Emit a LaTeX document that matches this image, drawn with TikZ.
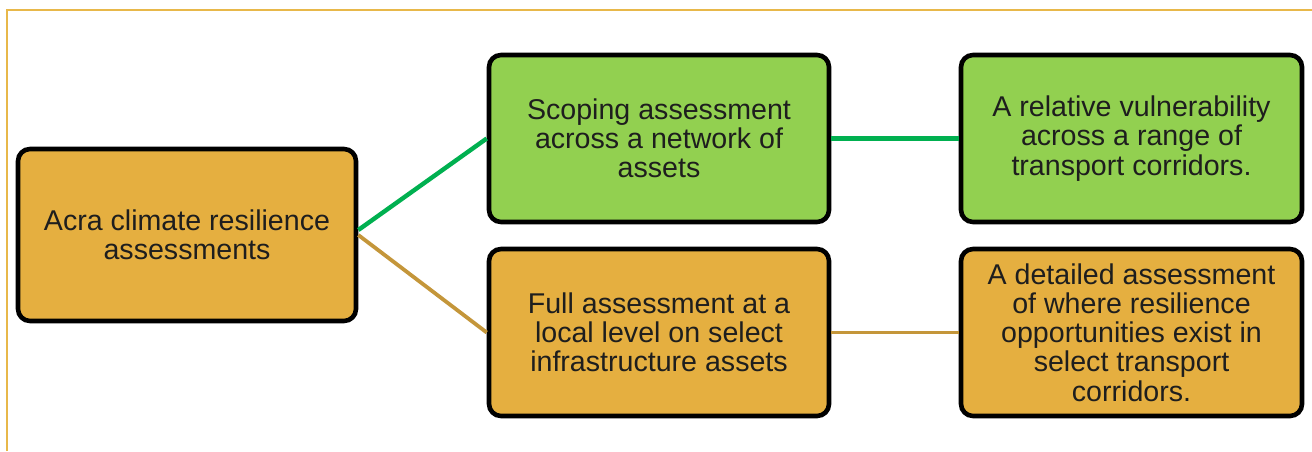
\documentclass[tikz,border=0pt]{standalone}
\usepackage{fontspec}
\setmainfont{Liberation Sans}
\definecolor{framec}{HTML}{E8B84A}
\definecolor{orangefill}{HTML}{E5AF40}
\definecolor{greenfill}{HTML}{92D050}
\definecolor{greenline}{HTML}{00B050}
\definecolor{brownline}{HTML}{C4963A}
\definecolor{textc}{HTML}{1E1E1E}
\begin{document}
\begin{tikzpicture}[x=0.5pt,y=0.5pt,
  box/.style={draw=black, line width=2.3pt, rounded corners=6pt,
    minimum width=170pt, minimum height=83.5pt, align=center, text=textc,
    font=\fontsize{14.3}{14.6}\selectfont, inner sep=0pt},
  obox/.style={box, fill=orangefill},
  gbox/.style={box, fill=greenfill},
  gconn/.style={draw=greenline, line width=2.2pt},
  bconn/.style={draw=brownline, line width=1.9pt}]
\useasboundingbox (0,0) rectangle (1312,451);
\draw[framec, line width=1.2pt] (7,0) -- (7,441) -- (1312,441);

\node[obox, minimum width=169pt, minimum height=86pt] (A) at (187,216)
  {Acra climate resilience\\assessments};
\node[gbox] (B) at (659,312.5)
  {Scoping assessment\\across a network of\\assets};
\node[obox] (C) at (659,118.5)
  {Full assessment at a\\local level on select\\infrastructure assets};
\node[gbox, minimum width=170.5pt] (D) at (1131.5,312.5)
  {A relative vulnerability\\across a range of\\transport corridors.};
\node[obox, minimum width=170.5pt] (E) at (1131.5,118.5)
  {A detailed assessment\\of where resilience\\opportunities exist in\\select transport\\corridors.};

\draw[gconn] ([yshift=2.5pt]A.east) -- (B.west);
\draw[bconn] (A.east) -- (C.west);
\draw[gconn] (B.east) -- (D.west);
\draw[bconn] (C.east) -- (E.west);
\end{tikzpicture}
\end{document}
